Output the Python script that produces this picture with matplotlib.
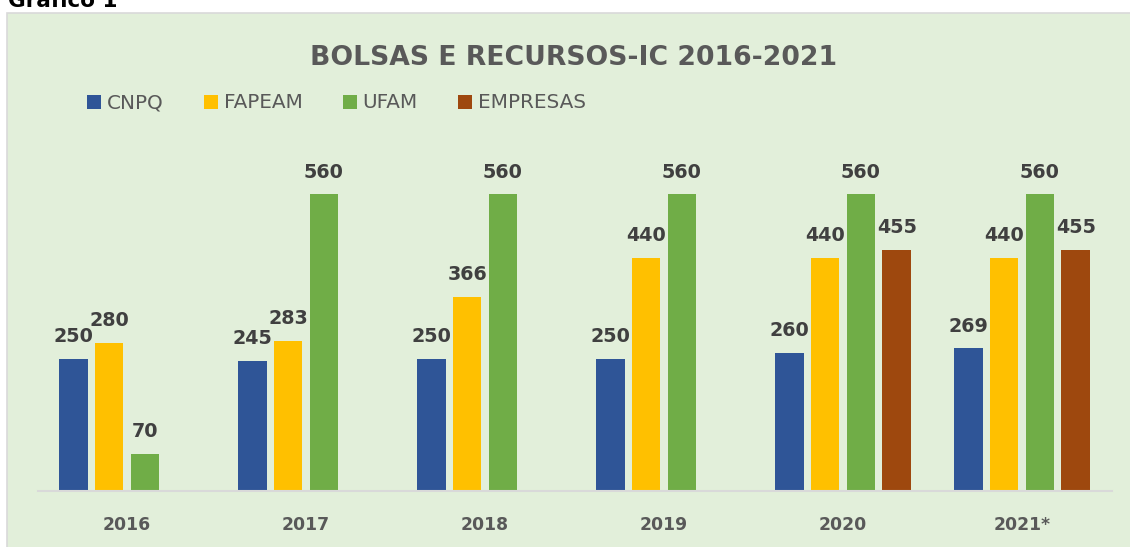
import matplotlib
matplotlib.use("Agg")
import matplotlib.pyplot as plt
import numpy as np
from matplotlib.patches import Patch, Rectangle

years = ["2016", "2017", "2018", "2019", "2020", "2021*"]
cnpq = [250, 245, 250, 250, 260, 269]
fapeam = [280, 283, 366, 440, 440, 440]
ufam = [70, 560, 560, 560, 560, 560]
empresas = [np.nan, np.nan, np.nan, np.nan, 455, 455]

series_names = ["CNPQ", "FAPEAM", "UFAM", "EMPRESAS"]
colors = ["#2F5597", "#FFC000", "#70AD47", "#9E480E"]

W, H = 1130, 547
fig = plt.figure(figsize=(W / 100, H / 100), dpi=100)
fig.patch.set_facecolor("white")

# chart background box (behind the axes)
fig.patches.append(Rectangle((7 / W, -0.01), 1.0, 1 - 13 / H + 0.01,
                             transform=fig.transFigure, facecolor="#E2EFDA",
                             edgecolor="#D9D9D9", linewidth=1.2, zorder=-5))

fig.text(8 / W, 1 - 7 / H, "Gráfico 1", fontsize=15.5, fontweight="bold",
         color="black", ha="left", va="baseline")

# axes: baseline at y=491px, 560 -> y=194px
base_px = 491
px_per_unit = (491 - 194.3) / 560
ymax = 660
top_px = base_px - ymax * px_per_unit
ax = fig.add_axes([37.5 / W, (H - base_px) / H, 1074 / W, (base_px - top_px) / H])
ax.set_facecolor("none")
ax.set_zorder(2)

x = np.arange(len(years))
pitch = 0.2
bw = 0.16
all_series = [cnpq, fapeam, ufam, empresas]
for i, (vals, name, c) in enumerate(zip(all_series, series_names, colors)):
    bars = ax.bar(x + (i - 1.5) * pitch, vals, bw, color=c, label=name, zorder=2)
    labels = ["" if np.isnan(v) else "%d" % v for v in vals]
    ax.bar_label(bars, labels=labels, padding=9.2, fontsize=13.8,
                 fontweight="bold", color="#404040")

ax.set_xlim(-0.5, len(years) - 0.5)
ax.set_ylim(0, ymax)
ax.set_xticks(x)
ax.set_xticklabels(years, fontsize=12.4, fontweight="bold", color="#595959")
ax.set_yticks([])
ax.tick_params(axis="x", length=0, pad=18)
for s in ["top", "right", "left"]:
    ax.spines[s].set_visible(False)
ax.spines["bottom"].set_color("#D9D9D9")
ax.spines["bottom"].set_linewidth(1.5)

fig.text(574 / W, 1 - 65 / H, "BOLSAS E RECURSOS-IC 2016-2021", fontsize=19.2,
         fontweight="bold", color="#595959", ha="center", va="baseline")

handles = [Patch(facecolor=c) for c in colors]
fig.legend(handles, series_names, loc="center left",
           bbox_to_anchor=(87 / W, 1 - 103 / H), ncol=4, frameon=False,
           fontsize=14.4, handlelength=0.7, handleheight=0.7,
           handletextpad=0.3, columnspacing=2.0, borderpad=0,
           borderaxespad=0, labelcolor="#595959")

fig.savefig("out.png", dpi=100)
